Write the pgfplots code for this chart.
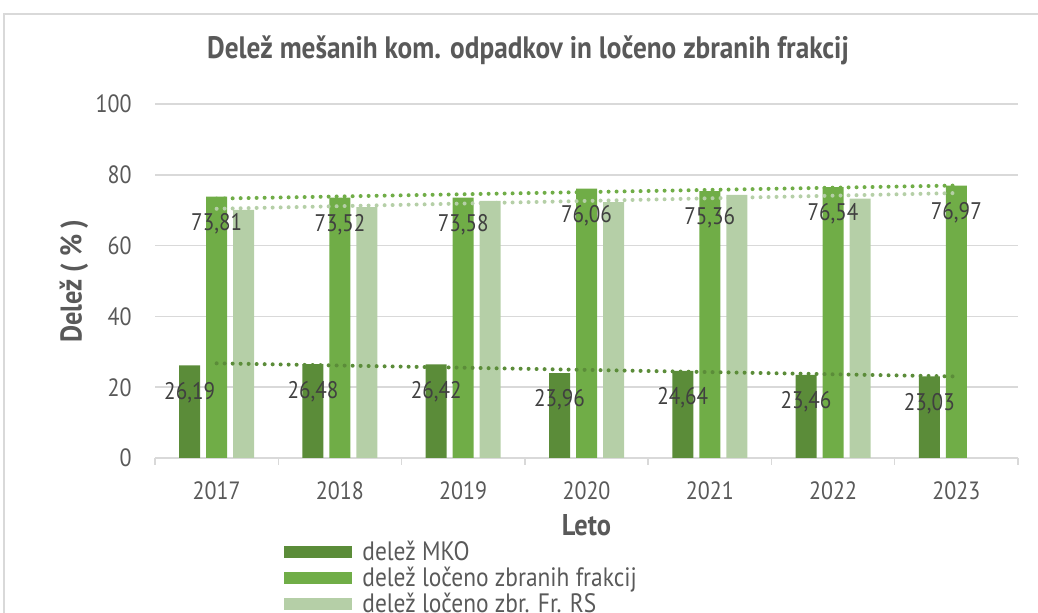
\documentclass[border=0pt]{standalone}
\usepackage{pgfplots}
\pgfplotsset{compat=1.18}
\usepackage{fontspec}
\setmainfont{PT Sans}[FakeStretch=0.88]
\definecolor{mko}{HTML}{5B8C39}
\definecolor{lzf}{HTML}{70AD47}
\definecolor{rs}{HTML}{B5CFA7}
\definecolor{txt}{HTML}{595959}
\definecolor{lbl}{HTML}{404040}
\definecolor{grd}{HTML}{D9D9D9}
\begin{document}
\begin{tikzpicture}[x=1pt,y=1pt]
\useasboundingbox (0,0) rectangle (519,306.5);
\clip (0,0) rectangle (519,306.5);
\draw[grd, line width=0.75pt] (2,-20) rectangle (540,299.5);
\node[anchor=base, font=\bfseries\fontsize{15.5}{18}\selectfont, text=txt] at (264,277)
  {Delež mešanih kom. odpadkov in ločeno zbranih frakcij};
\begin{axis}[
    at={(77.5pt,77.5pt)}, anchor=south west,
    scale only axis, width=431.5pt, height=177pt,
    xmin=-0.5, xmax=6.5, ymin=0, ymax=100,
    xtick={0,1,2,3,4,5,6},
    xticklabels={2017,2018,2019,2020,2021,2022,2023},
    minor xtick={-0.5,0.5,1.5,2.5,3.5,4.5,5.5,6.5},
    ytick={0,20,40,60,80,100},
    major tick length=0pt, minor tick length=3.5pt, tick align=outside,
    minor x tick style={grd, line width=0.75pt},
    axis x line*=bottom, axis y line*=left,
    x axis line style={grd, line width=0.75pt, -},
    y axis line style={draw=none},
    ymajorgrids, major grid style={grd, line width=0.75pt},
    tick label style={font=\fontsize{12.5}{14}\selectfont, text=txt},
    xticklabel style={anchor=base, yshift=-20.75pt},
    yticklabel style={anchor=base east, inner xsep=0pt, xshift=-11.5pt, yshift=-4.5pt},
    /pgf/number format/assume math mode=true,
    xlabel={Leto}, ylabel={Delež ( \% )},
    label style={font=\bfseries\fontsize{15}{18}\selectfont, text=txt},
    xlabel style={at={(axis description cs:0.5,0)}, anchor=base, yshift=-39pt},
    ylabel style={at={(axis description cs:-0.094,0.5)}, anchor=center},
    bar width=10.5pt,
    legend style={at={(axis description cs:0.1495,-0.2288)}, anchor=north west,
        draw=none, fill=none, inner sep=0pt,
        font=\fontsize{13.3}{15}\selectfont, text=txt,
        cells={anchor=west}, nodes={inner sep=0pt, minimum height=13pt}},
    datalbl/.style={nodes near coords,
        /pgf/number format/.cd, fixed, fixed zerofill, precision=2, use comma, assume math mode=true,
        /pgfplots/.cd,
        every node near coord/.append style={anchor=center, yshift=-13.5pt, xshift=#1,
            font=\fontsize{12}{14}\selectfont, text=lbl}},
]
\addplot[ybar, bar shift=-13.5pt, fill=mko, draw=none, datalbl=-13.5pt,
    legend image code/.code={\fill[mko] (0pt,-3pt) rectangle (34pt,3pt); \path (39pt,0pt);}]
  coordinates {(0,26.19) (1,26.48) (2,26.42) (3,23.96) (4,24.64) (5,23.46) (6,23.03)};
\addplot[ybar, bar shift=0pt, fill=lzf, draw=none, datalbl=0pt,
    legend image code/.code={\fill[lzf] (0pt,-3pt) rectangle (34pt,3pt); \path (39pt,0pt);}]
  coordinates {(0,73.81) (1,73.52) (2,73.58) (3,76.06) (4,75.36) (5,76.54) (6,76.97)};
\addplot[ybar, bar shift=13.5pt, fill=rs, draw=none,
    legend image code/.code={\fill[rs] (0pt,-3pt) rectangle (34pt,3pt); \path (39pt,0pt);}]
  coordinates {(0,70.1) (1,70.9) (2,72.6) (3,72.3) (4,74.3) (5,73.3)};
% linearni trendi
\addplot[forget plot, sharp plot, mko, line width=2pt, line cap=round, dash pattern=on 0pt off 4pt]
  coordinates {(0,26.74) (6,23.03)};
\addplot[forget plot, sharp plot, lzf, line width=2pt, line cap=round, dash pattern=on 0pt off 4pt]
  coordinates {(0,73.27) (6,76.97)};
\addplot[forget plot, sharp plot, rs, line width=2pt, line cap=round, dash pattern=on 0pt off 4pt]
  coordinates {(0,70.4) (6,74.84)};
\legend{delež MKO, delež ločeno zbranih frakcij, delež ločeno zbr. Fr. RS}
\end{axis}
\end{tikzpicture}
\end{document}
